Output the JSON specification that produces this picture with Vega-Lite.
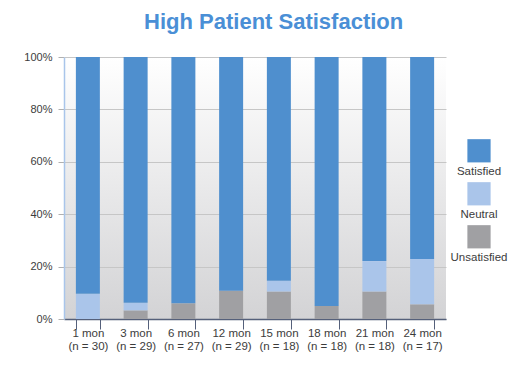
{
  "$schema": "https://vega.github.io/schema/vega-lite/v6.json",
  "background": "#ffffff",
  "padding": {"left": 23, "top": 11, "right": 0, "bottom": 0},
  "title": {
    "text": "High Patient Satisfaction",
    "font": "Liberation Sans",
    "fontSize": 22,
    "fontWeight": "bold",
    "color": "#4a8fd6",
    "anchor": "middle",
    "offset": 17,
    "dx": 8
  },
  "datasets": {
    "bars": [
      {"period": "1 mon|(n = 30)", "response": "Unsatisfied", "rank": 1, "pct": 0},
      {"period": "1 mon|(n = 30)", "response": "Neutral", "rank": 2, "pct": 9.6},
      {"period": "1 mon|(n = 30)", "response": "Satisfied", "rank": 3, "pct": 90.4},
      {"period": "3 mon|(n = 29)", "response": "Unsatisfied", "rank": 1, "pct": 3.3},
      {"period": "3 mon|(n = 29)", "response": "Neutral", "rank": 2, "pct": 2.9},
      {"period": "3 mon|(n = 29)", "response": "Satisfied", "rank": 3, "pct": 93.8},
      {"period": "6 mon|(n = 27)", "response": "Unsatisfied", "rank": 1, "pct": 6.0},
      {"period": "6 mon|(n = 27)", "response": "Neutral", "rank": 2, "pct": 0},
      {"period": "6 mon|(n = 27)", "response": "Satisfied", "rank": 3, "pct": 94.0},
      {"period": "12 mon|(n = 29)", "response": "Unsatisfied", "rank": 1, "pct": 10.8},
      {"period": "12 mon|(n = 29)", "response": "Neutral", "rank": 2, "pct": 0},
      {"period": "12 mon|(n = 29)", "response": "Satisfied", "rank": 3, "pct": 89.2},
      {"period": "15 mon|(n = 18)", "response": "Unsatisfied", "rank": 1, "pct": 10.5},
      {"period": "15 mon|(n = 18)", "response": "Neutral", "rank": 2, "pct": 4.1},
      {"period": "15 mon|(n = 18)", "response": "Satisfied", "rank": 3, "pct": 85.4},
      {"period": "18 mon|(n = 18)", "response": "Unsatisfied", "rank": 1, "pct": 5.0},
      {"period": "18 mon|(n = 18)", "response": "Neutral", "rank": 2, "pct": 0},
      {"period": "18 mon|(n = 18)", "response": "Satisfied", "rank": 3, "pct": 95.0},
      {"period": "21 mon|(n = 18)", "response": "Unsatisfied", "rank": 1, "pct": 10.5},
      {"period": "21 mon|(n = 18)", "response": "Neutral", "rank": 2, "pct": 11.6},
      {"period": "21 mon|(n = 18)", "response": "Satisfied", "rank": 3, "pct": 77.9},
      {"period": "24 mon|(n = 17)", "response": "Unsatisfied", "rank": 1, "pct": 5.6},
      {"period": "24 mon|(n = 17)", "response": "Neutral", "rank": 2, "pct": 17.3},
      {"period": "24 mon|(n = 17)", "response": "Satisfied", "rank": 3, "pct": 77.1}
    ],
    "legend": [
      {"response": "Satisfied", "rank": 1},
      {"response": "Neutral", "rank": 2},
      {"response": "Unsatisfied", "rank": 3}
    ]
  },
  "hconcat": [
    {
      "width": 382,
      "height": 262,
      "view": {
        "stroke": null,
        "fill": {
          "gradient": "linear",
          "x1": 0, "y1": 0, "x2": 0, "y2": 1,
          "stops": [
            {"offset": 0, "color": "#ffffff"},
            {"offset": 1, "color": "#d3d3d5"}
          ]
        }
      },
      "data": {"name": "bars"},
      "mark": {"type": "bar", "width": 24},
      "encoding": {
        "x": {
          "field": "period",
          "type": "nominal",
          "sort": null,
          "scale": {"paddingInner": 0.5, "paddingOuter": 0.25},
          "axis": {
            "title": null,
            "labelAngle": 0,
            "labelExpr": "split(datum.label, '|')",
            "labelFont": "Liberation Sans",
            "labelFontSize": 11.5,
            "labelColor": "#3c3c3c",
            "labelLineHeight": 13.5,
            "labelPadding": -2,
            "tickBand": "extent",
            "tickSize": 10,
            "tickColor": "#55607a",
            "domainColor": "#55607a",
            "domainWidth": 1.5,
            "grid": false
          }
        },
        "y": {
          "field": "pct",
          "type": "quantitative",
          "stack": "normalize",
          "axis": {
            "title": null,
            "format": ".0%",
            "values": [0, 0.2, 0.4, 0.6, 0.8, 1],
            "labelFont": "Liberation Sans",
            "labelFontSize": 11,
            "labelColor": "#3c3c3c",
            "labelPadding": 6,
            "tickSize": 6,
            "tickColor": "#b0b0b0",
            "domainColor": "#a9c5ea",
            "domainWidth": 1.5,
            "gridColor": "#c6c6c6",
            "gridWidth": 1
          }
        },
        "color": {
          "field": "response",
          "type": "nominal",
          "scale": {
            "domain": ["Satisfied", "Neutral", "Unsatisfied"],
            "range": ["#4f8fce", "#aac5ea", "#a0a0a3"]
          },
          "legend": null
        },
        "order": {"field": "rank", "type": "quantitative"}
      }
    },
    {
      "width": 30,
      "height": 258,
      "view": {"stroke": null, "fill": null},
      "data": {"name": "legend"},
      "encoding": {
        "y": {
          "field": "rank",
          "type": "quantitative",
          "scale": {"domain": [-1.181, 4.819], "reverse": true, "nice": false, "zero": false},
          "axis": null
        }
      },
      "layer": [
        {
          "mark": {"type": "point", "shape": "square", "filled": true, "size": 540, "opacity": 1},
          "encoding": {
            "color": {
              "field": "response",
              "type": "nominal",
              "scale": {
                "domain": ["Satisfied", "Neutral", "Unsatisfied"],
                "range": ["#4f8fce", "#aac5ea", "#a0a0a3"]
              },
              "legend": null
            }
          }
        },
        {
          "mark": {"type": "text", "dy": 21, "font": "Liberation Sans", "fontSize": 11.5, "color": "#3c3c3c", "baseline": "middle", "align": "center"},
          "encoding": {"text": {"field": "response"}}
        }
      ]
    }
  ],
  "spacing": 18,
  "bounds": "flush",
  "resolve": {"scale": {"color": "independent", "y": "independent"}}
}
